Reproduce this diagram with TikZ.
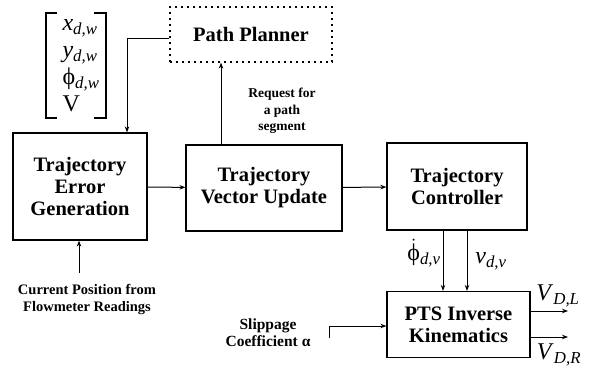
\documentclass[tikz,border=0pt]{standalone}
\usepackage{fontspec}
\setmainfont{Liberation Serif}
\usepackage{tikz}
\usetikzlibrary{arrows.meta,positioning}

\newcommand{\sbs}[1]{\textsubscript{\itshape #1}}

\tikzset{
	blk/.style={draw, line width=1.2pt, align=center, inner sep=0pt,
		font=\fontsize{20.5}{22}\selectfont\bfseries},
	lbl/.style={align=center, inner sep=0pt, font=\fontsize{14.5}{17}\selectfont\bfseries},
	sym/.style={inner sep=0pt, font=\fontsize{24}{27}\selectfont},
	arr/.style={line width=1pt, -{Stealth[length=6pt,width=4.5pt]}}
}

\begin{document}
\begin{tikzpicture}[x=1pt,y=-1pt]
		\useasboundingbox (0,0) rectangle (593,372);
		\node[blk, minimum width=134pt, minimum height=107pt] (teg) at (80,186.5) {Trajectory\\Error\\Generation};
		\node[blk, minimum width=156pt, minimum height=86pt] (tvu) at (264,188) {Trajectory\\Vector Update};
		\node[blk, minimum width=140pt, minimum height=87pt] (tc) at (457,186.5) {Trajectory\\Controller};
		\node[blk, dash pattern=on 2pt off 4pt, minimum width=162pt, minimum height=55pt] (pp) at (251,34.5) {Path Planner};
		\node[blk, minimum width=143pt, minimum height=66pt] (pts) at (458.5,324.5) {PTS Inverse\\Kinematics};
		\node[sym, align=left] (vec) at (81,66) {\textit{x}\sbs{d,w}\\\textit{y}\sbs{d,w}\\ϕ\sbs{d,w}\\V};
		\draw[line width=1.4pt] (57,13) -- (46,13) -- (46,118) -- (57,118);
		\draw[line width=1.4pt] (94,13) -- (106,13) -- (106,118) -- (94,118);
		\node[lbl, font=\fontsize{13.5}{16.5}\selectfont\bfseries] (req) at (282,111) {Request for\\a path\\segment};
		\node[lbl] (cur) at (87,299) {Current Position from\\Flowmeter Readings};
		\node[lbl, font=\fontsize{15.5}{17}\selectfont\bfseries] (slip) at (268,333) {Slippage\\Coefficient α};
		\coordinate (curin) at (79,273);
		\coordinate (slipin) at (329,338);
		\coordinate (vl) at (568,311);
		\coordinate (vr) at (568,337);
		\draw[arr] ([yshift=-3.5pt]pp.west) -| ([xshift=47pt]teg.north);
		\draw[arr] ([xshift=-43pt]tvu.north) -- ([xshift=-43pt]tvu.north |- pp.south);
		\draw[arr] (teg) -- (tvu);
		\draw[arr] (tvu) -- (tc);
		\draw[arr] (curin) -- (curin |- teg.south);
		\draw[arr] ([xshift=-14pt]tc.south) -- ([xshift=-14pt]tc.south |- pts.north);
		\draw[arr] ([xshift=10pt]tc.south) -- ([xshift=10pt]tc.south |- pts.north);
		\draw[arr] (slipin) |- ([yshift=-1.5pt]pts.west);
		\draw[arr] (pts.east |- vl) -- (vl);
		\draw[arr] (pts.east |- vr) -- (vr);
		\node[sym] (phid) at (424,253) {$\dot{\hbox{ϕ}}$\sbs{d,v}};
		\node[sym] (vdv) at (491,261) {\textit{v}\sbs{d,v}};
		\node[sym] (vdl) at (558,296) {\textit{V}\sbs{D,L}};
		\node[sym] (vdr) at (559,355) {\textit{V}\sbs{D,R}};
	% block diagram of the controller
	\end{tikzpicture}
\end{document}
